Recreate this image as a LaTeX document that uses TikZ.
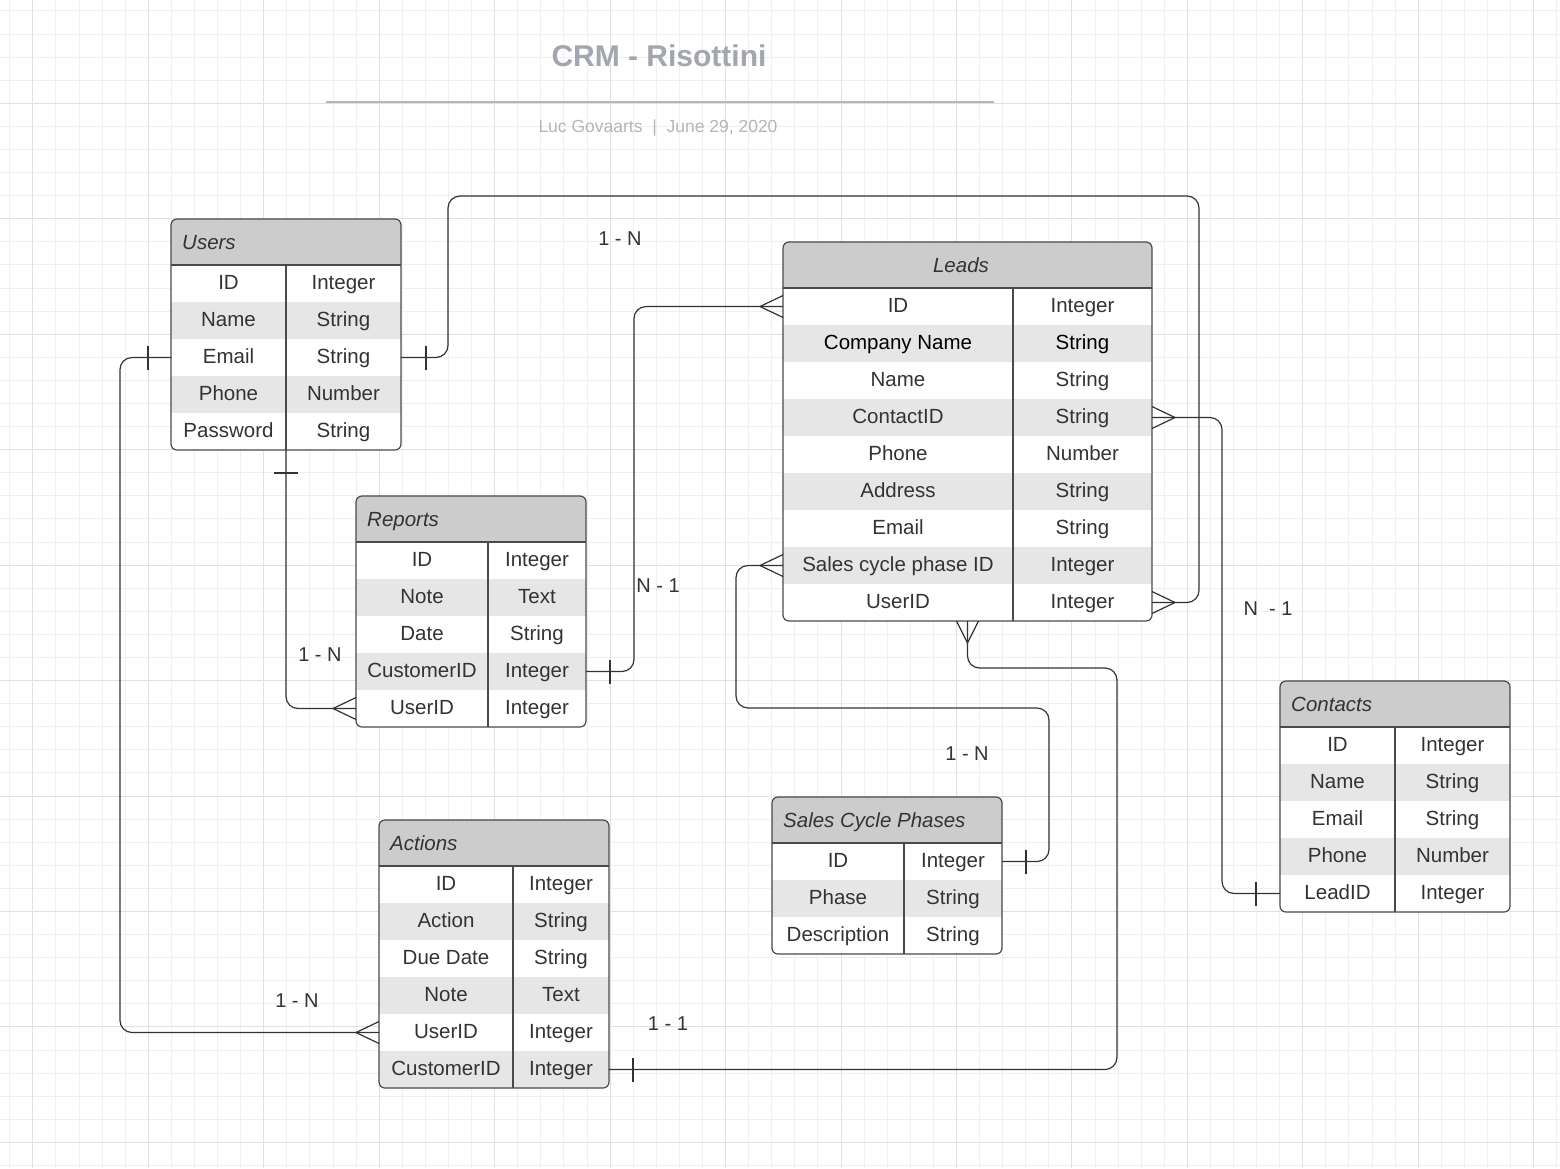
\documentclass[tikz,border=0pt]{standalone}
\usepackage{fontspec}
\setmainfont{Liberation Sans}
\usetikzlibrary{calc}
\definecolor{txt}{HTML}{333333}
\definecolor{hdrfill}{HTML}{CCCCCC}
\definecolor{rowfill}{HTML}{E6E6E6}
\definecolor{tabcol}{HTML}{4A4A4A}
\definecolor{conncol}{HTML}{333333}
\definecolor{gridmin}{HTML}{EFEFEF}
\definecolor{gridmaj}{HTML}{E0E0E0}
\definecolor{titlecol}{HTML}{A3A6AE}
\definecolor{subcol}{HTML}{B2B5BC}
\definecolor{sepcol}{HTML}{B4B6BF}
\tikzset{
  tabline/.style={draw=tabcol, line width=1.2pt},
  conn/.style={draw=conncol, line width=1.2pt, rounded corners=12pt},
  foot/.style={draw=conncol, line width=1.2pt},
  cell/.style={inner sep=0pt, anchor=base, text=txt, font=\fontsize{20.5}{24}\selectfont},
  hdrtext/.style={inner sep=0pt, anchor=base west, text=txt, font=\fontsize{20.5}{24}\selectfont\itshape},
  rowanchor/.style={inner sep=0pt, outer sep=0pt, minimum height=37pt},
  rel/.style={inner sep=0pt, text=txt, font=\fontsize{20}{24}\selectfont},
}
\newcommand\ERtab[7]{%
  \pgfmathsetmacro\ERh{46+37*#6}%
  \begin{scope}
    \clip[rounded corners=6pt] (#2,#3) rectangle ++(#4,\ERh);
    \fill[white] (#2,#3) rectangle ++(#4,\ERh);
    \fill[hdrfill] (#2,#3) rectangle ++(#4,46);
    \foreach \ca/\cb/\sh [count=\ci] in {#7} {
      \pgfmathsetmacro\ERy{#3+46+37*(\ci-1)}
      \ifnum\sh>0 \fill[rowfill] (#2,\ERy) rectangle ++(#4,37);\fi
    }
  \end{scope}
  \node[inner sep=0pt, outer sep=0pt, minimum width=#4, minimum height=\ERh, anchor=north west] (#1) at (#2,#3) {};
  \draw[tabline, rounded corners=6pt] (#2,#3) rectangle ++(#4,\ERh);
  \draw[tabline] ({#2},{#3+46}) -- ++(#4,0);
  \draw[tabline] ({#2+#5},{#3+46}) -- ({#2+#5},{#3+\ERh});
  \foreach \ca/\cb/\sh [count=\ci] in {#7} {
    \pgfmathsetmacro\ERy{#3+46+37*(\ci-1)+18.5}
    \pgfmathsetmacro\ERb{\ERy+5.5}
    \ifnum\sh=2 \def\ERc{black}\else\def\ERc{txt}\fi
    \node[rowanchor, minimum width=#4] (#1-\ci) at ({#2+#4/2},\ERy) {};
    \node[cell, text=\ERc] (#1-\ci a) at ({#2+#5/2},\ERb) {\ca};
    \node[cell, text=\ERc] (#1-\ci b) at ({#2+#5+(#4-#5)/2},\ERb) {\cb};
  }
}
\newcommand\ERcrow[3]{\draw[foot] ($(#1)+(#2)$) -- ($(#1)+(#3)$) ($(#1)+(#2)$) -- ($(#1)-(#3)$);}
\newcommand\ERbar[3]{\draw[foot] ($(#1)+(#2)+(#3)$) -- ($(#1)+(#2)-(#3)$);}
\begin{document}
\begin{tikzpicture}[x=1pt,y=-1pt]
\useasboundingbox (0,0) rectangle (1560,1168);
\fill[white] (0,0) rectangle (1560,1168);
% grid
\foreach \i in {0,...,67} {
  \pgfmathsetmacro\gx{9.76+23.09*\i}
  \draw[gridmin, line width=1pt] (\gx,0) -- (\gx,1168);
}
\foreach \j in {0,...,50} {
  \pgfmathsetmacro\gy{10.94+23.09*\j}
  \draw[gridmin, line width=1pt] (0,\gy) -- (1560,\gy);
}
\foreach \i in {0,...,13} {
  \pgfmathsetmacro\gx{32.85+115.45*\i}
  \draw[gridmaj, line width=1pt] (\gx,0) -- (\gx,1168);
}
\foreach \j in {0,...,9} {
  \pgfmathsetmacro\gy{103.3+115.45*\j}
  \draw[gridmaj, line width=1pt] (0,\gy) -- (1560,\gy);
}
% title block
\node[inner sep=0pt, anchor=base, text=titlecol, font=\fontsize{30}{34}\selectfont\bfseries] (title) at (659,66) {CRM - Risottini};
\draw[sepcol, line width=2pt] (326,102) -- (994,102);
\node[inner sep=0pt, anchor=base, text=subcol, font=\fontsize{17.5}{20}\selectfont] (subtitle) at (658,132) {Luc Govaarts~~|~~June 29, 2020};
% tables
\ERtab{users}{171}{219}{230}{115}{5}{ID/Integer/0, Name/String/1, Email/String/0, Phone/Number/1, Password/String/0}
\node[hdrtext] (users-t) at (182,249.5) {Users};
\ERtab{reports}{356}{496}{230}{132}{5}{ID/Integer/0, Note/Text/1, Date/String/0, CustomerID/Integer/1, UserID/Integer/0}
\node[hdrtext] (reports-t) at (367,526.5) {Reports};
\ERtab{leads}{783}{242}{369}{230}{9}{ID/Integer/0, Company Name/String/2, Name/String/0, ContactID/String/1, Phone/Number/0, Address/String/1, Email/String/0, Sales cycle phase ID/Integer/1, UserID/Integer/0}
\node[hdrtext, anchor=base] (leads-t) at (961,272.5) {Leads};
\ERtab{actions}{379}{820}{230}{134}{6}{ID/Integer/0, Action/String/1, Due Date/String/0, Note/Text/1, UserID/Integer/0, CustomerID/Integer/1}
\node[hdrtext] (actions-t) at (390,850.5) {Actions};
\ERtab{scp}{772}{797}{230}{132}{3}{ID/Integer/0, Phase/String/1, Description/String/0}
\node[hdrtext] (scp-t) at (783,827.5) {Sales Cycle Phases};
\ERtab{contacts}{1280}{681}{230}{115}{5}{ID/Integer/0, Name/String/1, Email/String/0, Phone/Number/1, LeadID/Integer/0}
\node[hdrtext] (contacts-t) at (1291,711.5) {Contacts};
% bend coordinates
\coordinate (k1a) at (448,196);
\coordinate (k1b) at (1199,196);
\coordinate (k3) at (634,0);
\coordinate (k4) at (1222,650);
\coordinate (k5a) at (736,708);
\coordinate (k5b) at (1049,780);
\coordinate (k6) at (1117,668);
\coordinate (k7) at (120,700);
% connectors
\draw[conn] (users-3.east) -| (k1a) -- (k1b) |- (leads-9.east);
\ERbar{users-3.east}{25,0}{0,12}
\ERcrow{leads-9.east}{23,0}{0,11}
\draw[conn] (users.south) |- (reports-5.west);
\ERbar{users.south}{0,23}{12,0}
\ERcrow{reports-5.west}{-23,0}{0,11}
\draw[conn] (reports-4.east) -| (k3 |- leads-1.west) -- (leads-1.west);
\ERbar{reports-4.east}{24,0}{0,12}
\ERcrow{leads-1.west}{-23,0}{0,11}
\draw[conn] (leads-4.east) -| (k4) |- (contacts-5.west);
\ERcrow{leads-4.east}{23,0}{0,11}
\ERbar{contacts-5.west}{-24,0}{0,12}
\draw[conn] (leads-8.west) -| (k5a) -| (k5b) |- (scp-1.east);
\ERcrow{leads-8.west}{-23,0}{0,11}
\ERbar{scp-1.east}{24,0}{0,12}
\draw[conn] (leads.south) |- (k6) |- (actions-6.east);
\ERcrow{leads.south}{0,22}{11,0}
\ERbar{actions-6.east}{24,0}{0,12}
\draw[conn] (users-3.west) -| (k7) |- (actions-5.west);
\ERbar{users-3.west}{-23,0}{0,12}
\ERcrow{actions-5.west}{-23,0}{0,11}
% relation labels
\node[rel] (l1) at (620,239) {1 - N};
\node[rel] (l2) at (320,655) {1 - N};
\node[rel] (l3) at (658,586) {N - 1};
\node[rel] (l4) at (1268,609) {N~~- 1};
\node[rel] (l5) at (967,754) {1 - N};
\node[rel] (l6) at (668,1024) {1 - 1};
\node[rel] (l7) at (297,1001) {1 - N};
\end{tikzpicture}
\end{document}
